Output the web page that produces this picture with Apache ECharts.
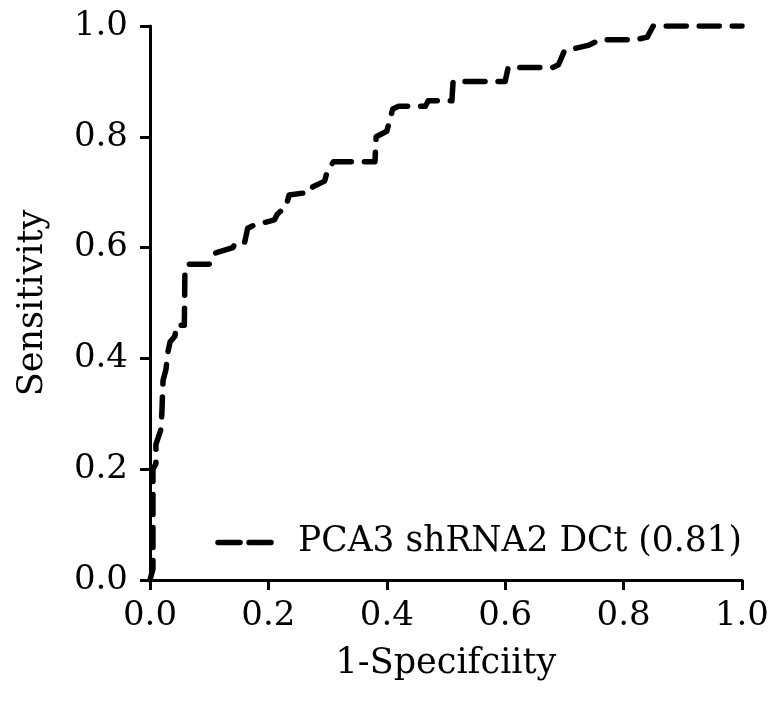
<!DOCTYPE html>
<html>
<head>
<meta charset="utf-8">
<script src="https://cdn.jsdelivr.net/npm/echarts@6/dist/echarts.min.js"></script>
<style>
  html, body { margin: 0; padding: 0; background: #fff; }
  #chart { width: 772px; height: 708px; }
</style>
</head>
<body>
<div id="chart"></div>
<script>
// ROC curve: false positive rate (1-specificity) vs. true positive rate (sensitivity)
const fpr = [0, 0.005, 0.005, 0.01, 0.01, 0.018, 0.02, 0.022, 0.027, 0.03, 0.034, 0.042, 0.045, 0.058,
  0.059, 0.065, 0.10, 0.11, 0.14, 0.145, 0.16, 0.165, 0.175, 0.21, 0.215, 0.23, 0.235, 0.27, 0.275,
  0.295, 0.30, 0.31, 0.38, 0.382, 0.40, 0.41, 0.42, 0.465, 0.47, 0.51, 0.512, 0.60, 0.605, 0.68,
  0.69, 0.70, 0.72, 0.74, 0.76, 0.82, 0.84, 0.85, 1.0];
const tpr = [0, 0.02, 0.20, 0.21, 0.245, 0.27, 0.30, 0.36, 0.38, 0.41, 0.43, 0.44, 0.46, 0.46,
  0.56, 0.57, 0.57, 0.59, 0.60, 0.61, 0.61, 0.635, 0.64, 0.65, 0.66, 0.675, 0.695, 0.70, 0.71,
  0.72, 0.74, 0.755, 0.755, 0.80, 0.81, 0.85, 0.855, 0.855, 0.865, 0.865, 0.90, 0.90, 0.925, 0.925,
  0.93, 0.955, 0.96, 0.965, 0.975, 0.975, 0.98, 1.0, 1.0];
const seriesName = 'PCA3 shRNA2 DCt (0.81)';
const xTitle = '1-Specifciity';
const yTitle = 'Sensitivity';

const points = fpr.map((x, i) => [x, tpr[i]]);
const font = 'DejaVu Serif';

const chart = echarts.init(document.getElementById('chart'), null, { renderer: 'canvas' });

const axisCommon = {
  type: 'value',
  min: 0,
  max: 1,
  interval: 0.2,
  splitLine: { show: false },
  axisLine: { show: true, onZero: false, lineStyle: { color: '#000', width: 3 } },
  axisTick: { show: true, inside: false, length: 10, lineStyle: { color: '#000', width: 3 } },
  axisLabel: {
    color: '#000', fontFamily: font, fontSize: 34,
    formatter: v => v.toFixed(1)
  },
  nameLocation: 'middle',
  nameTextStyle: { color: '#000', fontFamily: font, fontSize: 35 }
};

chart.setOption({
  animation: false,
  backgroundColor: '#fff',
  grid: { left: 150, top: 26, width: 592, height: 554, containLabel: false },
  xAxis: Object.assign({}, axisCommon, {
    name: xTitle, nameGap: 66,
    axisLabel: Object.assign({}, axisCommon.axisLabel, { margin: 19 })
  }),
  yAxis: Object.assign({}, axisCommon, {
    name: yTitle, nameGap: 100,
    axisLabel: Object.assign({}, axisCommon.axisLabel, { margin: 22 })
  }),
  legend: {
    right: 25,
    top: 520,
    itemWidth: 58,
    itemHeight: 14,
    data: [{ name: seriesName }],
    textStyle: { color: '#000', fontFamily: font, fontSize: 34.5, padding: [0, 0, 0, 17] },
    itemStyle: { opacity: 0 },
    lineStyle: { type: [22, 9], width: 5.5, cap: 'round', color: '#000', opacity: 1 }
  },
  series: [{
    name: seriesName,
    type: 'line',
    data: points,
    showSymbol: false,
    symbol: 'none',
    lineStyle: { color: '#000', width: 5.5, type: [20, 13], cap: 'round', join: 'round' },
    itemStyle: { color: '#000' }
  }]
});
</script>
</body>
</html>
